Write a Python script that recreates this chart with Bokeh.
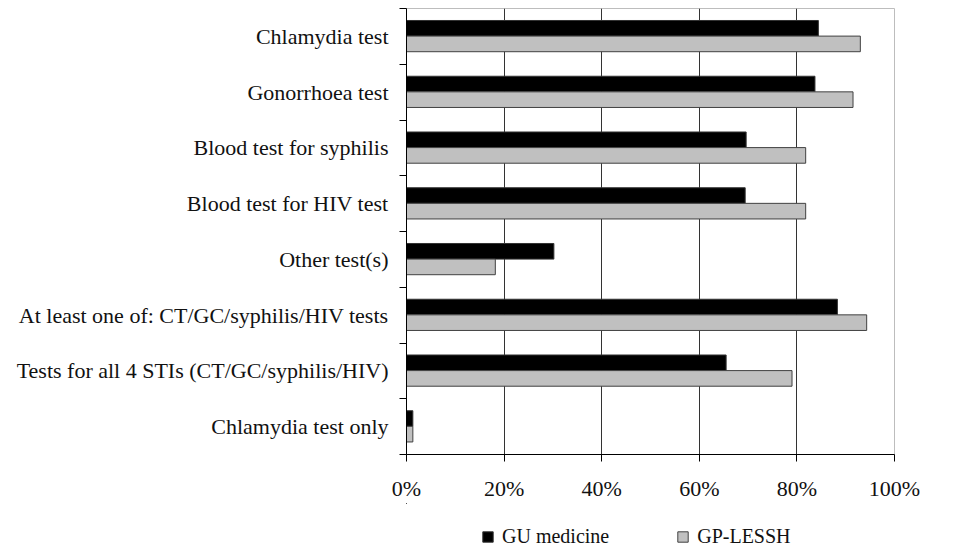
from bokeh.plotting import figure
from bokeh.layouts import column
from bokeh.models import (Range1d, FixedTicker, NumeralTickFormatter, ColumnDataSource,
                          Legend, LegendItem)
from bokeh.embed import file_html
from bokeh.resources import INLINE

categories = [
    "Chlamydia test",
    "Gonorrhoea test",
    "Blood test for syphilis",
    "Blood test for HIV test",
    "Other test(s)",
    "At least one of: CT/GC/syphilis/HIV tests",
    "Tests for all 4 STIs (CT/GC/syphilis/HIV)",
    "Chlamydia test only",
]
gu_medicine = [84.4, 83.7, 69.6, 69.4, 30.2, 88.3, 65.5, 1.3]
gp_lessh = [93.0, 91.5, 81.8, 81.8, 18.2, 94.3, 79.0, 1.3]
series_names = ["GU medicine", "GP-LESSH"]
x_ticks = [0, 0.2, 0.4, 0.6, 0.8, 1.0]

FONT = "Liberation Serif"
TEXT_COLOR = "#111111"
GU_STYLE = dict(fill_color="black", line_color="#333333", line_width=1)
GP_STYLE = dict(fill_color="#c0c0c0", line_color="#404040", line_width=1)

n = len(categories)
centers = [n - i - 0.5 for i in range(n)]

src = ColumnDataSource(dict(
    cat=categories,
    gu=[v / 100 for v in gu_medicine],
    gp=[v / 100 for v in gp_lessh],
    y_gu=[c + 0.145 for c in centers],
    y_gp=[c - 0.135 for c in centers],
))

p = figure(width=960, height=503, output_backend="svg", toolbar_location=None,
           x_range=Range1d(0, 1), y_range=Range1d(0, n),
           min_border_left=406, min_border_right=66, min_border_top=8, min_border_bottom=46)
p.background_fill_color = "white"
p.border_fill_color = "white"
p.outline_line_color = "#bdbdbd"
p.outline_line_width = 1

p.hbar(y="y_gu", left=0, right="gu", height=0.28, source=src, **GU_STYLE)
p.hbar(y="y_gp", left=0, right="gp", height=0.28, source=src, **GP_STYLE)

# grid
p.ygrid.visible = False
p.xgrid.ticker = FixedTicker(ticks=x_ticks[1:-1])
p.xgrid.grid_line_color = "#333333"
p.xgrid.grid_line_width = 1

# x axis
p.xaxis.ticker = FixedTicker(ticks=x_ticks, minor_ticks=[])
p.xaxis.formatter = NumeralTickFormatter(format="0%")
p.xaxis.major_tick_out = 7
p.xaxis.major_tick_in = 0
p.xaxis.axis_line_color = "black"
p.xaxis.major_tick_line_color = "black"
p.xaxis.major_label_text_font = FONT
p.xaxis.major_label_text_font_size = "22px"
p.xaxis.major_label_text_color = TEXT_COLOR
p.xaxis.major_label_standoff = 14

# y axis
p.yaxis.ticker = FixedTicker(ticks=centers, minor_ticks=list(range(n + 1)))
p.yaxis.major_label_overrides = {c: cat for c, cat in zip(centers, categories)}
p.yaxis.major_tick_out = 0
p.yaxis.major_tick_in = 0
p.yaxis.minor_tick_out = 7
p.yaxis.minor_tick_in = 0
p.yaxis.minor_tick_line_color = "black"
p.yaxis.axis_line_color = "black"
p.yaxis.major_label_text_font = FONT
p.yaxis.major_label_text_font_size = "22px"
p.yaxis.major_label_text_color = TEXT_COLOR
p.yaxis.major_label_standoff = 11

# legend strip below the chart (its proxy bars lie entirely outside the strip's view)
p2 = figure(width=960, height=45, output_backend="svg", toolbar_location=None,
            x_axis_type=None, y_axis_type=None,
            x_range=Range1d(5, 6), y_range=Range1d(-20, -19),
            min_border_left=0, min_border_right=0, min_border_top=0, min_border_bottom=0)
p2.outline_line_color = None
p2.grid.visible = False
l_gu = p2.hbar(y="y_gu", left=0, right="gu", height=0.28, source=src, **GU_STYLE)
l_gp = p2.hbar(y="y_gp", left=0, right="gp", height=0.28, source=src, **GP_STYLE)

legend = Legend(items=[LegendItem(label=series_names[0], renderers=[l_gu]),
                       LegendItem(label=series_names[1], renderers=[l_gp])],
                location=(75, 0), orientation="horizontal",
                border_line_alpha=0, background_fill_alpha=0,
                padding=0, margin=0, spacing=67,
                glyph_width=13, glyph_height=13, label_standoff=8,
                label_text_font=FONT, label_text_font_size="20px",
                label_text_color=TEXT_COLOR)
p2.add_layout(legend)

layout = column(p, p2, spacing=0)
open("out.html", "w").write(file_html(layout, INLINE))
